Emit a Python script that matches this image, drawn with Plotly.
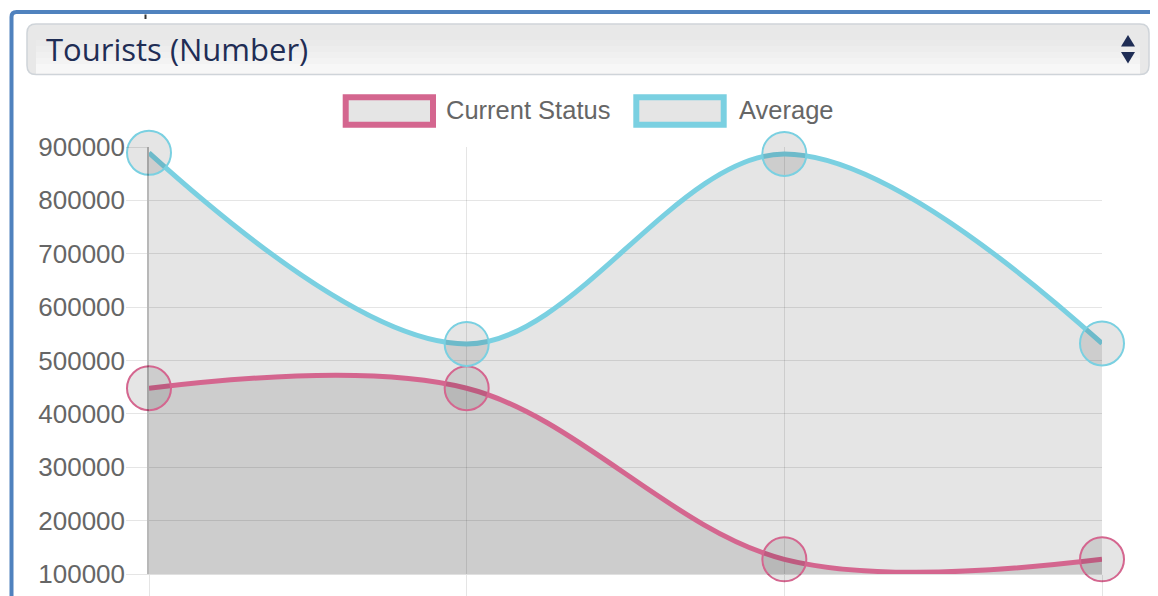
import plotly.graph_objects as go

# ---- data ----
categories = ["P1", "P2", "P3", "P4"]
current_status = [448000, 448000, 127500, 127500]
average = [889000, 531000, 887000, 532000]
y_ticks = [100000, 200000, 300000, 400000, 500000, 600000, 700000, 800000, 900000]
selector_label = "Tourists (Number)"
series_names = ["Current Status", "Average"]

# ---- layout geometry (page pixels) ----
PAGE_W, PAGE_H = 1158, 596
OFF = 8  # default body margin of the page
L, R, T, B = 149, 1102, 147, 574

PINK = "#d4668f"
CYAN = "#7ad0e1"
BLUE = "#5082be"
NAVY = "#1f2d55"
GREY_TXT = "#666666"
FONT = "Liberation Sans, Arial, sans-serif"


def px(x):
    return (x - L) / (R - L)


def py(y):
    return (B - y) / (B - T)


fig = go.Figure()

# fills first (so lines are drawn over both fills)
for vals in [current_status, average]:
    fig.add_trace(go.Scatter(
        x=categories, y=vals, mode="lines",
        line=dict(color="rgba(0,0,0,0)", width=0, shape="spline", smoothing=1.0),
        fill="tozeroy", fillcolor="rgba(0,0,0,0.1)",
        showlegend=False, hoverinfo="skip",
    ))

for name, vals, col in [(series_names[0], current_status, PINK),
                        (series_names[1], average, CYAN)]:
    fig.add_trace(go.Scatter(
        x=categories, y=vals, name=name, mode="lines+markers",
        line=dict(color=col, width=5, shape="spline", smoothing=1.0),
        marker=dict(size=44, color="rgba(0,0,0,0.1)",
                    line=dict(color=col, width=2)),
        cliponaxis=False, showlegend=False, hoverinfo="x+y+name",
    ))

shapes = []


def rounded_rect(x0, y0, x1, y1, r):
    pts = [
        ("M", x0 + r, y0), ("L", x1 - r, y0), ("Q", x1, y0, x1, y0 + r),
        ("L", x1, y1 - r), ("Q", x1, y1, x1 - r, y1), ("L", x0 + r, y1),
        ("Q", x0, y1, x0, y1 - r), ("L", x0, y0 + r), ("Q", x0, y0, x0 + r, y0),
    ]
    s = ""
    for p in pts:
        coords = p[1:]
        vals = [f"{px(coords[i]):.5f},{py(coords[i + 1]):.5f}" for i in range(0, len(coords), 2)]
        s += p[0] + " " + " ".join(vals) + " "
    return s + "Z"


def poly(points):
    return "M " + " L ".join(f"{px(a):.5f},{py(b):.5f}" for a, b in points) + " Z"


# blue frame (top and left)
shapes.append(dict(type="path", xref="paper", yref="paper",
                   path=(f"M {px(11.5):.5f},{py(600):.5f} L {px(11.5):.5f},{py(17):.5f} "
                         f"Q {px(11.5):.5f},{py(12):.5f} {px(16.5):.5f},{py(12):.5f} "
                         f"L {px(1162):.5f},{py(12):.5f}"),
                   line=dict(color=BLUE, width=4)))
# small dark mark above selector
shapes.append(dict(type="line", xref="paper", yref="paper",
                   x0=px(145.5), x1=px(145.5), y0=py(14.5), y1=py(19),
                   line=dict(color="#333333", width=2)))
# selector box with a soft vertical gradient (bands)
shapes.append(dict(type="path", xref="paper", yref="paper",
                   path=rounded_rect(27, 24, 1149, 74.5, 9),
                   fillcolor="#e8e8e8", line=dict(color="#cfd4d9", width=1.5)))
bands = [(40, 46, "#eaeaea"), (46, 52, "#ededed"), (52, 58, "#f0f0f0"),
         (58, 64, "#f3f3f3"), (64, 73.5, "#f7f7f7")]
for y0, y1, c in bands:
    shapes.append(dict(type="rect", xref="paper", yref="paper",
                       x0=px(36), x1=px(1140), y0=py(y1), y1=py(y0),
                       fillcolor=c, line=dict(width=0)))
# arrows
shapes.append(dict(type="path", xref="paper", yref="paper",
                   path=poly([(1121, 46.5), (1135, 46.5), (1128, 35)]),
                   fillcolor=NAVY, line=dict(width=0)))
shapes.append(dict(type="path", xref="paper", yref="paper",
                   path=poly([(1121, 52), (1135, 52), (1128, 63.5)]),
                   fillcolor=NAVY, line=dict(width=0)))
# legend boxes
for (x0, x1), col in [((345.7, 433), PINK), ((636.3, 723.7), CYAN)]:
    shapes.append(dict(type="rect", xref="paper", yref="paper",
                       x0=px(x0), x1=px(x1), y0=py(124.7), y1=py(97.3),
                       fillcolor="rgba(0,0,0,0.1)", line=dict(color=col, width=6)))

annotations = [
    dict(text=selector_label, xref="paper", yref="paper", x=px(44), y=py(49),
         xanchor="left", yanchor="middle", showarrow=False,
         font=dict(family="Open Sans, sans-serif", size=31, color=NAVY)),
    dict(text=series_names[0], xref="paper", yref="paper", x=px(444), y=py(110),
         xanchor="left", yanchor="middle", showarrow=False,
         font=dict(family=FONT, size=25.5, color=GREY_TXT)),
    dict(text=series_names[1], xref="paper", yref="paper", x=px(737), y=py(110),
         xanchor="left", yanchor="middle", showarrow=False,
         font=dict(family=FONT, size=25.5, color=GREY_TXT)),
]

fig.update_layout(
    width=PAGE_W - OFF, height=PAGE_H - OFF,
    margin=dict(l=L - OFF, r=PAGE_W - R, t=T - OFF, b=PAGE_H - B, pad=0),
    paper_bgcolor="white", plot_bgcolor="white",
    shapes=shapes, annotations=annotations, showlegend=False,
    font=dict(family=FONT, color=GREY_TXT),
    xaxis=dict(type="category", range=[0, 3], showgrid=True, automargin=False,
               gridcolor="rgba(0,0,0,0.1)", gridwidth=1,
               ticks="outside", ticklen=24, tickcolor="rgba(0,0,0,0.1)",
               showticklabels=False, zeroline=False,
               showline=True, linecolor="rgba(0,0,0,0.12)", linewidth=1),
    yaxis=dict(range=[100000, 900000], tickvals=y_ticks, automargin=False,
               ticktext=[str(v) for v in y_ticks],
               showgrid=True, gridcolor="rgba(0,0,0,0.1)", gridwidth=1,
               ticks="outside", ticklen=21, tickcolor="rgba(0,0,0,0.1)",
               tickfont=dict(family=FONT, size=26, color=GREY_TXT),
               ticklabelstandoff=-4,
               zeroline=False, showline=True,
               linecolor="rgba(0,0,0,0.28)", linewidth=1.5),
)

fig.write_html("out.html")
